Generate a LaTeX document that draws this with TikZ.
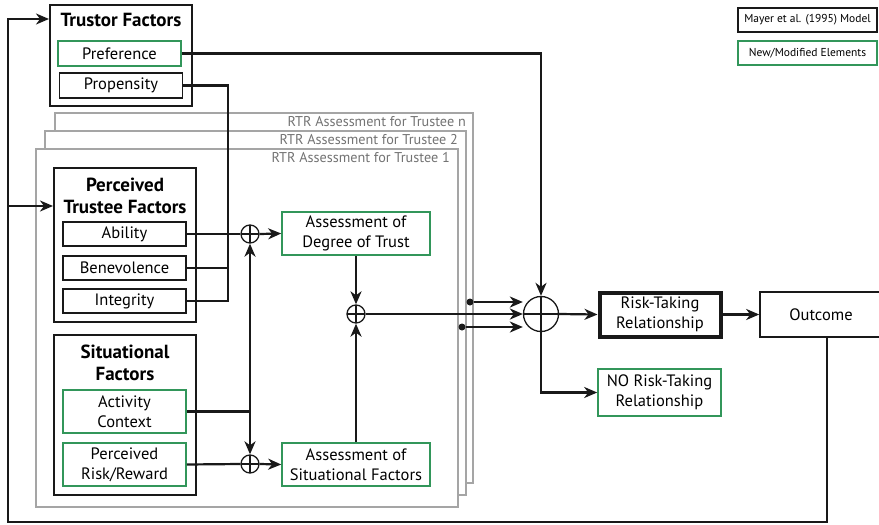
\documentclass[tikz,border=0pt]{standalone}
\usepackage{fontspec}
\setmainfont{PT Sans}
\usetikzlibrary{arrows.meta,calc}
\definecolor{boxgreen}{RGB}{50,150,90}
\definecolor{ink}{RGB}{25,25,25}
\definecolor{framegray}{RGB}{165,165,165}
\definecolor{labelgray}{RGB}{115,115,115}
\tikzset{
  item/.style={draw=ink, line width=1.6pt, fill=white, minimum width=123pt,
    minimum height=25pt, inner sep=0pt, align=center,
    font=\fontsize{16.5}{20}\selectfont},
  newitem/.style={item, draw=boxgreen},
  group/.style={draw=ink, line width=2pt, fill=white, inner sep=0pt},
  grouptitle/.style={font=\fontsize{19}{22}\selectfont\bfseries, align=center, inner sep=0pt},
  rtrframe/.style={draw=framegray, line width=1.3pt, fill=white, inner sep=0pt},
  framelabel/.style={anchor=east, text=labelgray, inner sep=0pt,
    font=\fontsize{14.2}{16}\selectfont},
  legendbox/.style={draw=ink, line width=1.5pt, fill=white, minimum width=139pt,
    minimum height=24pt, inner sep=0pt, font=\fontsize{11.5}{14}\selectfont},
  sum/.style={circle, draw=ink, line width=1.3pt, fill=white, inner sep=0pt,
    minimum size=#1,
    path picture={\draw[ink, line width=1.3pt]
      (path picture bounding box.north) -- (path picture bounding box.south)
      (path picture bounding box.west) -- (path picture bounding box.east);}},
  sum/.default=18pt,
  wire/.style={draw=ink, line width=2.2pt},
  arr/.style={wire, -{Stealth[length=13pt,width=11pt,inset=4pt]}},
  joint/.style={circle, fill=ink, inner sep=0pt, minimum size=7pt},
}
\begin{document}
\begin{tikzpicture}[x=1pt, y=-1pt]
\useasboundingbox (0,0) rectangle (879,525);

% legend
\node[legendbox] (lgold) at (807.5,20) {Mayer et al. (1995) Model};
\node[legendbox, draw=boxgreen] (lgnew) at (807.5,53) {New/Modified Elements};

% trustor factors
\node[group, minimum width=142pt, minimum height=101pt] (tf) at (121,55.5) {};
\node[grouptitle] (tftitle) at (121,20) {Trustor Factors};
\node[newitem] (pref) at (119.5,53.5) {Preference};
\node[item] (prop) at (121,85.5) {Propensity};

% stacked assessment frames, one per trustee
\node[rtrframe, minimum width=418pt, minimum height=370pt] (fn) at (264,298) {};
\node[framelabel] (fnlab) at (466,122) {RTR Assessment for Trustee n};
\node[rtrframe, minimum width=421pt, minimum height=364pt] (f2) at (255.5,313) {};
\node[framelabel] (f2lab) at (458,140) {RTR Assessment for Trustee 2};
\node[rtrframe, minimum width=422pt, minimum height=358pt] (f1) at (247,328) {};
\node[framelabel] (f1lab) at (450,158) {RTR Assessment for Trustee 1};

% perceived trustee factors
\node[group, minimum width=142pt, minimum height=154pt] (ptf) at (125,245) {};
\node[grouptitle] (ptftitle) at (125,196) {Perceived\\Trustee Factors};
\node[item, minimum height=24pt] (abil) at (124.5,234) {Ability};
\node[item, minimum height=24pt] (benev) at (124.5,268) {Benevolence};
\node[item, minimum height=24pt] (integ) at (124.5,301) {Integrity};

% situational factors
\node[group, minimum width=142pt, minimum height=160pt] (sf) at (125,415) {};
\node[grouptitle] (sftitle) at (125,363) {Situational\\Factors};
\node[newitem, minimum height=43pt] (act) at (124.5,411.5) {Activity\\Context};
\node[newitem, minimum height=43pt] (risk) at (124.5,464.5) {Perceived\\Risk/Reward};

% summing junctions and assessments
\node[sum] (s1) at (250,234) {};
\node[sum] (s2) at (250,464) {};
\node[newitem, minimum width=148pt, minimum height=43pt] (adt) at (356,233.5) {Assessment of\\Degree of Trust};
\node[newitem, minimum width=148pt, minimum height=43pt] (asf) at (356,464.5) {Assessment of\\Situational Factors};
\node[sum] (s3) at (356,314) {};
\node[sum=35pt] (big) at (541,314) {};

% outcomes
\node[item, line width=4pt, minimum width=121pt, minimum height=44pt] (rtr) at (660,314.5) {Risk-Taking\\Relationship};
\node[newitem, minimum width=123pt, minimum height=47pt] (nortr) at (659.5,392.5) {NO Risk-Taking\\Relationship};
\node[item, minimum width=122pt, minimum height=45pt] (outc) at (821,314.5) {Outcome};

% inputs to the first junction
\coordinate (bus) at (228,0);
\draw[wire] (prop.east) -| (bus |- integ.east) -- (integ.east);
\draw[wire] (benev.east) -- (bus |- benev.east);
\draw[wire] (abil.east) -- (s1.west);
\coordinate (split) at (s1.south |- act.east);
\draw[wire] (act.east) -- (split);
\draw[arr] (split) -- (s1.south);
\draw[arr] (split) -- (s2.north);
\draw[wire] (risk.east) -- (s2.west);
\draw[arr] (s1.east) -- (adt.west);
\draw[arr] (s2.east) -- (asf.west);
\draw[arr] (adt.south) -- (s3.north);
\draw[arr] (asf.north) -- (s3.south);

% combining the assessments of all trustees
\draw[arr] (s3.east) -- (big.west);
\node[joint] (d1) at (470,302) {};
\node[joint] (d2) at (462,327) {};
\draw[arr] (d1) -- (d1 -| big.west);
\draw[arr] (d2) -- (d2 -| big.west);
\draw[arr] (pref.east) -| (big.north);
\draw[arr] (big.east) -- (rtr.west);
\draw[arr] (big.south) |- (nortr.west);
\draw[arr] (rtr.east) -- (outc.west);

% feedback from the outcome
\coordinate (fbx) at (827,0);
\coordinate (lowR) at (827,522);
\coordinate (lowL) at (8,522);
\coordinate (tfin) at ($(tf.north west)+(0,15)$);
\coordinate (ptfin) at ($(ptf.north west)+(0,39)$);
\draw[arr] (fbx |- outc.south) -- (lowR) -- (lowL) |- (tfin);
\draw[arr] (lowL |- ptfin) -- (ptfin);
\end{tikzpicture}
\end{document}
